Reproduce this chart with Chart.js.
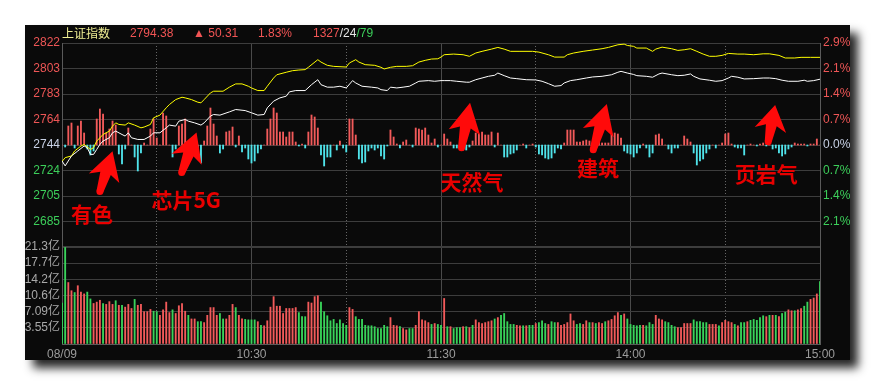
<!DOCTYPE html>
<html>
<head>
<meta charset="utf-8">
<title>上证指数 分时</title>
<script src="https://cdn.jsdelivr.net/npm/chart.js@4/dist/chart.umd.min.js"></script>
<style>
  html, body { margin: 0; padding: 0; background: #fff; }
  body { width: 875px; height: 385px; position: relative; overflow: hidden; }
  #panel {
    position: absolute; left: 25px; top: 25px; width: 825px; height: 335px;
    background: #0a0a0a; box-shadow: 8px 8px 9px rgba(0, 0, 0, 0.85);
  }
  #chart { position: absolute; left: 0; top: 0; }
  .hdr {
    position: absolute; top: 0; z-index: 2; white-space: nowrap;
    font: 12px "Liberation Sans", Arial, sans-serif; line-height: 16px;
  }
  .red { color: #f25555; }
  .white { color: #e6e6e6; }
  .green { color: #3ccf5a; }
</style>
</head>
<body>
<div id="panel">
  <canvas id="chart" width="825" height="335"></canvas>
  <span class="hdr" style="left:37px;color:#f0ef94;font-family:'Noto Sans CJK SC',sans-serif">上证指数</span>
  <span class="hdr red" style="left:105px">2794.38</span>
  <span class="hdr red" style="left:168px">▲ 50.31</span>
  <span class="hdr red" style="left:233px">1.83%</span>
  <span class="hdr" style="left:288px"><span class="red">1327</span><span class="white">/24</span><span class="green">/79</span></span>
</div>
<script>
// ---- eixos / rótulos ----
const BASE = 2744.07; // fechamento anterior
const priceTicks = [2822.07, 2802.57, 2783.07, 2763.57, 2744.07, 2724.57, 2705.07, 2685.57, 2666.07];
const priceLabels = ['2822', '2803', '2783', '2764', '2744', '2724', '2705', '2685', ''];
const pctLabels = ['2.9%', '2.1%', '1.4%', '0.7%', '0.0%', '0.7%', '1.4%', '2.1%', ''];
const volTicks = [0, 3.55, 7.1, 10.65, 14.2, 17.75, 21.3];
const volLabels = ['', '3.55亿', '7.09亿', '10.6亿', '14.2亿', '17.7亿', '21.3亿'];
const timeTicks = [0, 60, 120, 180, 240];
const timeLabels = ['08/09', '10:30', '11:30', '14:00', '15:00'];
const halfHourTicks = [30, 90, 150, 210];

// ---- linhas (minuto, valor) ----
const whiteLine = [
  [0, 2731.9], [1, 2728.1], [3, 2735.7], [5, 2739.5], [7, 2743.3], [8, 2742.0], [9, 2736.9], [10, 2736.9],
  [11, 2740.7], [12, 2744.5], [13, 2747.1], [15, 2749.6], [16, 2753.4], [17, 2754.7], [19, 2752.1], [20, 2750.9],
  [21, 2753.4], [22, 2749.6], [24, 2748.3], [26, 2748.3], [28, 2750.9], [29, 2753.4], [31, 2753.4], [33, 2757.2],
  [34, 2759.3], [36, 2758.5], [37, 2762.3], [39, 2763.6], [40, 2762.3], [42, 2761.0], [44, 2759.3], [45, 2761.0],
  [47, 2766.2], [48, 2767.4], [50, 2766.9], [53, 2769.4], [55, 2771.2], [58, 2770.4], [60, 2768.7], [62, 2766.9],
  [64, 2767.4], [65, 2772.5], [67, 2777.6], [69, 2780.1], [71, 2781.4], [72, 2784.7], [74, 2785.7], [77, 2785.7],
  [79, 2790.2], [81, 2794.0], [82, 2790.2], [84, 2788.3], [86, 2788.3], [88, 2789.0], [90, 2787.7], [92, 2793.3],
  [93, 2791.5], [95, 2789.0], [98, 2788.3], [100, 2787.7], [101, 2786.4], [103, 2785.7], [104, 2788.3], [106, 2787.7],
  [108, 2788.3], [110, 2789.0], [112, 2791.5], [113, 2792.8], [116, 2793.3], [118, 2792.8], [120, 2793.3], [121, 2793.3],
  [123, 2793.3], [125, 2792.8], [128, 2792.1], [129, 2792.1], [131, 2794.0], [133, 2795.3], [135, 2796.6], [137, 2797.4],
  [138, 2799.1], [140, 2797.1], [142, 2795.3], [144, 2794.8], [147, 2794.0], [150, 2793.8], [152, 2792.8], [154, 2791.0],
  [156, 2789.0], [158, 2789.5], [159, 2791.5], [161, 2793.3], [163, 2794.0], [166, 2795.3], [168, 2796.1], [171, 2796.6],
  [174, 2797.8], [176, 2799.7], [177, 2800.4], [179, 2799.1], [181, 2798.0], [182, 2797.1], [185, 2796.6], [187, 2795.9],
  [189, 2798.4], [190, 2799.1], [193, 2797.8], [195, 2797.1], [197, 2797.4], [199, 2798.4], [200, 2796.6], [202, 2794.6],
  [205, 2793.6], [207, 2792.8], [209, 2793.3], [211, 2795.3], [212, 2796.6], [214, 2795.9], [216, 2794.6], [219, 2794.8],
  [222, 2795.3], [224, 2795.3], [226, 2794.8], [228, 2793.6], [230, 2792.8], [233, 2792.8], [235, 2793.6], [236, 2792.8],
  [238, 2793.3], [240, 2794.38]
];
const yellowLine = [
  [0, 2731.4], [1, 2734.4], [3, 2735.7], [4, 2739.5], [6, 2743.3], [7, 2744.5], [9, 2740.7], [10, 2742.0],
  [11, 2747.1], [13, 2752.1], [15, 2754.7], [16, 2758.5], [17, 2761.0], [18, 2759.8], [20, 2759.3], [21, 2761.0],
  [23, 2759.3], [25, 2757.2], [26, 2757.8], [28, 2759.8], [29, 2764.9], [31, 2766.9], [33, 2772.5], [34, 2775.0],
  [36, 2778.8], [38, 2780.6], [39, 2780.1], [41, 2778.8], [43, 2776.8], [44, 2776.3], [45, 2778.8], [47, 2783.9],
  [48, 2785.2], [51, 2785.2], [53, 2788.3], [55, 2790.8], [57, 2790.8], [59, 2789.0], [60, 2787.7], [62, 2785.7],
  [64, 2785.7], [65, 2789.0], [67, 2795.3], [68, 2797.8], [71, 2799.7], [73, 2800.9], [75, 2801.4], [77, 2801.7],
  [78, 2803.5], [81, 2809.3], [82, 2807.5], [84, 2805.0], [86, 2804.2], [90, 2803.7], [91, 2806.8], [93, 2809.3],
  [94, 2807.5], [96, 2805.5], [99, 2805.0], [101, 2803.5], [102, 2802.2], [104, 2803.5], [106, 2804.2], [109, 2804.2],
  [111, 2804.7], [113, 2807.5], [115, 2808.8], [117, 2809.8], [119, 2810.0], [120, 2811.3], [121, 2813.1], [124, 2813.6],
  [127, 2813.1], [129, 2811.9], [131, 2814.4], [133, 2815.7], [136, 2817.4], [138, 2818.7], [140, 2817.4], [142, 2815.7],
  [145, 2815.7], [149, 2815.7], [151, 2815.1], [154, 2813.1], [156, 2811.3], [159, 2811.3], [160, 2813.1], [162, 2814.4],
  [165, 2815.7], [168, 2816.7], [171, 2817.7], [173, 2818.7], [176, 2820.7], [178, 2821.2], [179, 2820.2], [181, 2819.5],
  [182, 2818.2], [185, 2818.2], [187, 2815.7], [188, 2817.4], [190, 2818.9], [193, 2817.7], [195, 2816.4], [197, 2816.9],
  [199, 2817.7], [201, 2815.7], [203, 2813.6], [205, 2811.9], [207, 2811.9], [209, 2812.6], [211, 2814.1], [214, 2813.6],
  [216, 2813.6], [219, 2813.1], [222, 2813.8], [224, 2813.8], [227, 2812.6], [229, 2810.6], [232, 2810.6], [234, 2811.1],
  [237, 2811.1], [240, 2811.1]
];

// ---- barras vermelho/ciano (força), uma por minuto ----
const forceBars = [
  0, -2, 19, 22, -3, 19, 24, 12, -4, -10,
  -6, 26, 36, 31, 12, 16, 24, 20, -9, -19,
  -4, 17, 0, -12, -26, -8, 2, 0, 16, 26,
  7, 0, 32, 29, 0, -12, -4, 19, 21, 26,
  0, 4, -8, -13, -18, 4, 19, 37, 21, 9,
  -8, -4, 13, 14, 18, -2, 9, -7, -3, -14,
  -18, -16, -8, -4, 0, 16, 26, 37, 32, 13,
  13, 8, 13, 13, 3, -1, 1, -3, 13, 30,
  28, 17, -10, -21, -12, -12, 0, -5, 4, -3,
  -7, 26, 26, 10, -14, -18, -17, -6, -3, -5,
  -3, -11, -14, -1, 15, 8, 1, -3, 3, 5,
  0, -2, 17, 16, 15, 17, 10, 2, 6, -2,
  0, 11, 6, 3, -3, -3, -4, -5, -5, -2,
  4, 12, 11, 13, 10, 10, 13, -2, 12, 0,
  -12, -12, -9, -8, -5, 0, 1, -3, 0, 1,
  -2, -9, -10, -13, -14, -13, -8, -3, -4, 2,
  15, 15, 15, 3, 3, 4, 5, 4, 1, 0,
  4, 2, 2, 2, 11, 12, 11, 7, -6, -8,
  -9, -12, -8, -3, 1, -3, -12, -8, 10, 11,
  6, 0, -4, -8, -3, -3, 0, 9, 6, 3,
  -8, -20, -16, -14, -8, -4, 0, -3, 0, 2,
  11, 12, 1, -2, -3, -3, -10, 0, 1, 0,
  -1, 1, 2, -1, 0, -4, -3, -8, -11, -9,
  -4, -2, 2, 1, 1, 1, -1, 1, 1, 6,
  0
];

// ---- volume (亿) e direção (u = alta, d = baixa) ----
const volume = [
  9.0, 21.2, 13.5, 11.7, 11.3, 12.8, 11.4, 11.0, 11.4, 9.9,
  8.9, 9.2, 9.6, 8.9, 8.7, 9.3, 8.7, 9.5, 8.5, 8.5,
  8.1, 8.7, 7.8, 9.8, 8.5, 8.7, 7.1, 7.1, 7.6, 7.2,
  7.1, 6.3, 7.5, 9.2, 6.9, 7.5, 6.7, 8.4, 8.9, 7.2,
  6.3, 5.5, 5.5, 4.9, 4.9, 4.7, 6.3, 8.0, 8.0, 6.3,
  6.7, 5.5, 5.5, 6.3, 8.7, 8.0, 6.3, 5.5, 5.4, 5.3,
  5.3, 5.3, 4.9, 4.1, 4.0, 5.1, 8.1, 10.4, 8.3, 8.3,
  6.7, 7.8, 7.8, 7.8, 8.0, 6.9, 6.0, 6.0, 9.2, 9.0,
  10.4, 10.6, 9.2, 7.1, 6.2, 5.1, 5.4, 4.5, 5.3, 4.5,
  4.1, 8.0, 7.6, 6.0, 5.4, 5.4, 4.1, 4.0, 4.0, 3.8,
  3.4, 3.4, 4.1, 3.8, 5.8, 4.1, 4.0, 3.8, 3.4, 3.1,
  3.4, 3.4, 4.1, 7.1, 5.3, 5.1, 4.7, 4.3, 4.5, 4.3,
  4.1, 10.0, 3.8, 3.8, 3.4, 3.6, 3.6, 3.8, 3.8, 3.6,
  4.1, 5.3, 4.7, 4.5, 4.7, 4.9, 5.1, 5.5, 5.8, 6.3,
  6.7, 4.9, 4.3, 4.3, 4.1, 4.0, 4.0, 4.0, 4.1, 4.1,
  4.5, 4.7, 5.1, 4.5, 4.3, 4.9, 4.7, 4.7, 4.1, 4.3,
  4.7, 6.6, 5.1, 4.3, 4.5, 4.3, 5.1, 4.7, 4.7, 4.5,
  4.7, 4.5, 4.9, 5.1, 5.4, 6.2, 6.9, 6.3, 6.6, 5.5,
  4.3, 4.1, 4.0, 4.1, 4.1, 4.0, 4.7, 4.3, 6.3, 5.5,
  5.3, 4.9, 4.7, 4.1, 3.8, 3.6, 3.6, 4.5, 4.5, 4.5,
  5.3, 4.9, 4.9, 4.7, 4.7, 4.3, 4.3, 4.3, 4.0, 4.7,
  5.2, 4.9, 4.7, 4.3, 4.0, 4.7, 4.7, 4.9, 5.2, 5.4,
  5.2, 5.8, 6.2, 6.0, 6.3, 6.3, 6.3, 6.0, 6.7, 7.0,
  7.5, 7.3, 7.3, 7.5, 7.8, 8.3, 9.2, 9.8, 10.1, 11.0,
  13.7
];
const volumeDir = (
  'dduuduuudd uuuduuudud uuuduuuuud duuuuduuuu duudduuuuu ' +
  'dduuuduudd dduduuuuuu uuuuuddduu uudddddddd duuddddddd ' +
  'dddduuuduu dduuuuudud dududddudu duuuuuudud dddduududd ' +
  'udddudduuu uuudduudud uuduuuudud dddduddduu udddduuuuu ' +
  'ddddduuudu uuududdudd dddudududd uuduudduuu d'
).replace(/\s/g, '').split('');

// ---- anotações (setas) ----
const notes = [
  { text: '有色', at: [9.5, 2691.1], tail: [12, 2708.5], tip: [16, 2739.2] },
  { text: '芯片5G', at: [39.3, 2701.7], tail: [37.9, 2723.0], tip: [42.6, 2753.7] },
  { text: '天然气', at: [129.8, 2716.1], tail: [126.5, 2742.0], tip: [129.2, 2776.3] },
  { text: '建筑', at: [169.7, 2726.8], tail: [168.2, 2740.5], tip: [172.5, 2775.5] },
  { text: '页岩气', at: [223.0, 2722.1], tail: [223.6, 2746.6], tip: [225.8, 2774.7] }
];

const minutes = forceBars.map((_, i) => i);
const PRICE_H = 204, VOL_H = 97; // alturas dos painéis (px)

const RED = '#f25a5a', GREEN = '#39d35a', CYAN = '#4fe3ea';
const GRID = '#3d3d3d', FRAME = '#5a5a5a';

function priceTickColor(ctx) {
  const v = ctx.tick ? ctx.tick.value : BASE;
  if (Math.abs(v - BASE) < 0.01) return '#c9d2e6';
  return v > BASE ? '#ee5656' : '#3ccf5a';
}

function drawArrow(ctx, x0, y0, x1, y1) {
  const dx = x1 - x0, dy = y1 - y0, len = Math.hypot(dx, dy);
  const ux = dx / len, uy = dy / len, nx = -uy, ny = ux;
  const head = Math.min(25, len * 0.55);
  const bx = x1 - ux * head, by = y1 - uy * head;
  ctx.beginPath();
  ctx.moveTo(x0 + nx * 3.5, y0 + ny * 3.5);
  ctx.lineTo(bx + nx * 5.5, by + ny * 5.5);
  ctx.lineTo(bx + nx * 16 - ux * 5, by + ny * 16 - uy * 5);
  ctx.lineTo(x1, y1);
  ctx.lineTo(bx - nx * 16 - ux * 5, by - ny * 16 - uy * 5);
  ctx.lineTo(bx - nx * 5.5, by - ny * 5.5);
  ctx.lineTo(x0 - nx * 3.5, y0 - ny * 3.5);
  ctx.closePath();
  ctx.fill();
  ctx.beginPath();
  ctx.arc(x0, y0, 3.5, 0, Math.PI * 2);
  ctx.fill();
}

const arrowPlugin = {
  id: 'arrows',
  afterDatasetsDraw(chart) {
    const { ctx, scales } = chart;
    const px = m => scales.x.getPixelForValue(m);
    const py = v => scales.yPrice.getPixelForValue(v);
    ctx.save();
    ctx.fillStyle = '#ff0a0a';
    notes.forEach(n => drawArrow(ctx, px(n.tail[0]), py(n.tail[1]), px(n.tip[0]), py(n.tip[1])));
    ctx.fillStyle = '#e80000';
    ctx.font = 'bold 21px "Noto Sans CJK SC", sans-serif';
    ctx.textAlign = 'center';
    ctx.textBaseline = 'middle';
    notes.forEach(n => ctx.fillText(n.text, px(n.at[0]), py(n.at[1])));
    ctx.restore();
  }
};

Chart.defaults.font.family = '"Liberation Sans", Arial, "Noto Sans CJK SC", sans-serif';
Chart.defaults.font.size = 12;

new Chart(document.getElementById('chart'), {
  type: 'bar',
  data: {
    labels: minutes,
    datasets: [
      {
        type: 'line', label: '上证指数', xAxisID: 'x', yAxisID: 'yPrice', order: 0,
        data: whiteLine.map(p => ({ x: p[0], y: p[1] })),
        borderColor: '#ffffff', borderWidth: 1, pointRadius: 0, tension: 0
      },
      {
        type: 'line', label: '均价', xAxisID: 'x', yAxisID: 'yPrice', order: 0,
        data: yellowLine.map(p => ({ x: p[0], y: p[1] })),
        borderColor: '#ffff00', borderWidth: 1, pointRadius: 0, tension: 0
      },
      {
        label: '力道', xAxisID: 'x', yAxisID: 'yForce', order: 2, grouped: false,
        data: forceBars, barThickness: 1.2,
        backgroundColor: ctx => (ctx.raw >= 0 ? RED : CYAN)
      },
      {
        label: '成交量', xAxisID: 'x', yAxisID: 'yVol', order: 2, grouped: false,
        data: volume, barThickness: 1.2,
        backgroundColor: ctx => (volumeDir[ctx.dataIndex] === 'u' ? RED : GREEN)
      }
    ]
  },
  options: {
    responsive: false,
    animation: false,
    events: [],
    layout: { padding: { top: 18, left: 0, right: 0, bottom: 0 } },
    plugins: { legend: { display: false }, tooltip: { enabled: false } },
    scales: {
      x: {
        type: 'linear', position: 'bottom', min: 0, max: 240, offset: false,
        afterBuildTicks: s => { s.ticks = timeTicks.map(v => ({ value: v })); },
        afterFit: s => { s.height = 16; },
        ticks: {
          autoSkip: false, maxRotation: 0, padding: 3, color: '#9c9c9c',
          callback: (v, i) => timeLabels[i]
        },
        grid: { color: '#4a4a4a', drawTicks: false, offset: false },
        border: { display: true, color: FRAME }
      },
      xHalf: {
        type: 'linear', position: 'bottom', min: 0, max: 240, offset: false,
        afterBuildTicks: s => { s.ticks = halfHourTicks.map(v => ({ value: v })); },
        afterFit: s => { s.height = 0; },
        ticks: { display: false, autoSkip: false },
        grid: { color: '#666', drawTicks: false, offset: false },
        border: { display: false, dash: [1, 2] }
      },
      // à esquerda a pilha é montada de baixo para cima: volume antes do preço
      yVol: {
        type: 'linear', position: 'left', stack: 'L', stackWeight: VOL_H,
        min: 0, max: volTicks[volTicks.length - 1],
        afterBuildTicks: s => { s.ticks = volTicks.map(v => ({ value: v })); },
        afterFit: s => { s.width = 37; },
        ticks: { autoSkip: false, padding: 2, color: '#a9a9a9', callback: (v, i) => volLabels[i] },
        grid: { color: GRID, drawTicks: false, lineWidth: ctx => (ctx.index === volTicks.length - 1 ? 2 : 1) },
        border: { display: true, color: FRAME }
      },
      yPrice: {
        type: 'linear', position: 'left', stack: 'L', stackWeight: PRICE_H,
        min: priceTicks[priceTicks.length - 1], max: priceTicks[0],
        afterBuildTicks: s => { s.ticks = priceTicks.map(v => ({ value: v })); },
        afterFit: s => { s.width = 37; },
        ticks: { autoSkip: false, padding: 2, color: priceTickColor, callback: (v, i) => priceLabels[i] },
        grid: { color: GRID, drawTicks: false, lineWidth: ctx => (ctx.index === priceTicks.length - 1 ? 2 : 1) },
        border: { display: true, color: FRAME }
      },
      yForce: {
        type: 'linear', position: 'left', display: false,
        min: -(PRICE_H / 2 + VOL_H), max: PRICE_H / 2
      },
      yPct: {
        type: 'linear', position: 'right', stack: 'R', stackWeight: PRICE_H,
        min: priceTicks[priceTicks.length - 1], max: priceTicks[0],
        afterBuildTicks: s => { s.ticks = priceTicks.map(v => ({ value: v })); },
        afterFit: s => { s.width = 30; },
        ticks: { autoSkip: false, padding: 3, color: priceTickColor, callback: (v, i) => pctLabels[i] },
        grid: { display: false, drawTicks: false },
        border: { display: true, color: FRAME }
      },
      yVolR: {
        type: 'linear', position: 'right', stack: 'R', stackWeight: VOL_H,
        min: 0, max: volTicks[volTicks.length - 1],
        afterFit: s => { s.width = 30; },
        ticks: { display: false },
        grid: { display: false, drawTicks: false },
        border: { display: true, color: FRAME }
      }
    }
  },
  plugins: [arrowPlugin]
});
</script>
</body>
</html>
